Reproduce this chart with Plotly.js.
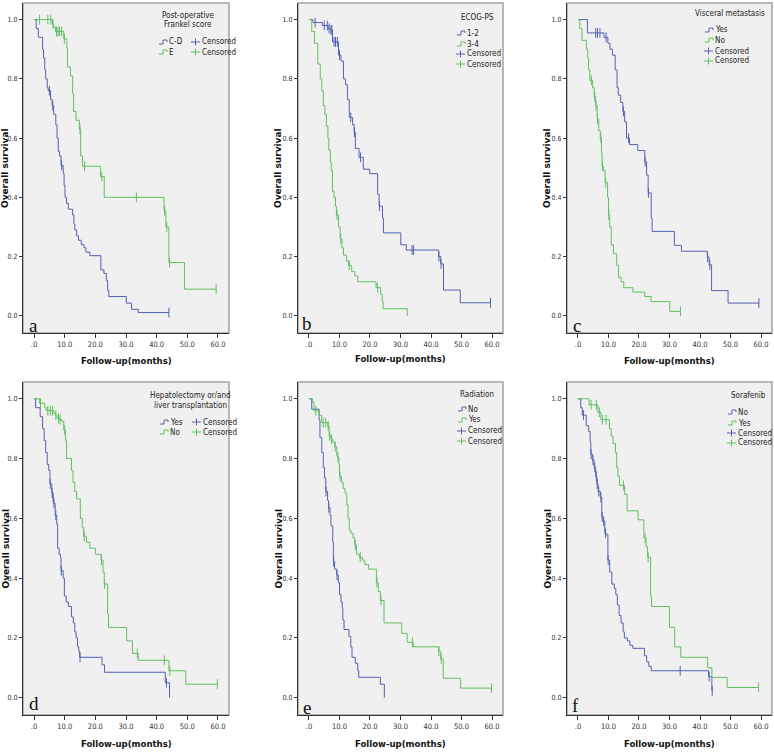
<!DOCTYPE html>
<html>
<head>
<meta charset="utf-8">
<script src="https://cdn.plot.ly/plotly-3.0.1.min.js"></script>
<style>
  html, body { margin: 0; padding: 0; background: #fff; }
  #chart { width: 774px; height: 752px; }
</style>
</head>
<body>
<div id="chart"></div>
<script>
// Kaplan-Meier step points [time, survival after step]
const aBlueT = [0, 0.7, 1.4, 2.8, 3.1, 3.5, 3.8, 4.3, 4.6, 5.4, 5.9, 6.4, 7.1, 7.5, 7.9, 8.3, 8.8, 9.5, 9.8, 10.1, 10.6, 11.2, 12.6, 13.0, 13.3, 13.9, 14.5, 15.4, 16.3, 16.9, 18.2, 21.8, 22.8, 23.6, 24.0, 24.4, 30.1, 31.8, 34.0, 44.0];
const aBlueS = [1, 0.97, 0.94, 0.90, 0.87, 0.83, 0.80, 0.77, 0.76, 0.73, 0.71, 0.68, 0.645, 0.60, 0.555, 0.54, 0.508, 0.48, 0.44, 0.40, 0.38, 0.36, 0.34, 0.31, 0.29, 0.27, 0.255, 0.24, 0.23, 0.215, 0.203, 0.155, 0.143, 0.12, 0.085, 0.065, 0.043, 0.022, 0.011, 0.011];
const aBlueC = [5.0, 6.1, 9.0, 44.0];
const aGreenT = [0, 6.0, 6.4, 7.0, 9.7, 10.7, 10.9, 11.9, 12.6, 12.9, 13.7, 14.8, 15.2, 15.8, 21.7, 22.9, 42.4, 43.0, 44.0, 49.1, 59.4];
const aGreenS = [1, 0.985, 0.975, 0.96, 0.935, 0.905, 0.84, 0.81, 0.75, 0.69, 0.66, 0.63, 0.54, 0.505, 0.47, 0.40, 0.355, 0.30, 0.18, 0.09, 0.09];
const aGreenC = [1.8, 4.5, 5.5, 6.2, 7.3, 7.8, 8.3, 9.0, 9.9, 15.0, 16.5, 22.1, 33.4, 42.6, 43.3, 44.2, 59.4];

const bBlueT = [0, 1.3, 4.4, 6.3, 6.9, 7.7, 9.7, 10.5, 11.3, 12.0, 12.6, 13.2, 14.3, 14.8, 15.2, 16.4, 17.8, 19.9, 22.5, 23.0, 24.1, 24.4, 30.1, 31.9, 42.5, 43.2, 44.1, 49.6, 59.5];
const bBlueS = [1, 0.99, 0.98, 0.97, 0.965, 0.925, 0.88, 0.86, 0.80, 0.78, 0.73, 0.67, 0.645, 0.62, 0.565, 0.535, 0.495, 0.48, 0.41, 0.37, 0.33, 0.28, 0.24, 0.222, 0.20, 0.175, 0.087, 0.044, 0.044];
const bBlueC = [2.0, 5.0, 6.0, 6.6, 7.2, 7.5, 8.2, 8.7, 9.3, 10.0, 13.7, 14.9, 16.9, 23.1, 33.8, 34.3, 42.6, 43.3, 59.5];
const bGreenT = [0, 0.9, 1.8, 2.9, 3.7, 4.2, 4.7, 5.2, 5.7, 6.2, 6.5, 7.0, 7.3, 7.7, 8.2, 8.7, 9.0, 9.7, 10.2, 10.8, 11.3, 12.3, 13.0, 14.0, 15.0, 16.0, 22.0, 23.5, 24.0, 24.3, 32.2];
const bGreenS = [1, 0.96, 0.92, 0.85, 0.80, 0.76, 0.71, 0.68, 0.64, 0.60, 0.56, 0.52, 0.49, 0.42, 0.40, 0.37, 0.34, 0.30, 0.26, 0.23, 0.205, 0.185, 0.17, 0.15, 0.135, 0.115, 0.095, 0.072, 0.048, 0.024, 0.0];
const bGreenC = [9.2, 10.4, 13.2, 22.5];

const cBlueT = [0, 3.1, 8.5, 9.8, 10.5, 11.3, 12.2, 12.8, 13.2, 14.0, 14.7, 15.3, 15.9, 16.9, 19.6, 21.9, 22.5, 23.0, 24.0, 24.3, 31.6, 33.9, 42.4, 43.0, 43.8, 49.2, 59.3];
const cBlueS = [1, 0.955, 0.94, 0.92, 0.90, 0.88, 0.83, 0.77, 0.745, 0.72, 0.69, 0.655, 0.60, 0.578, 0.558, 0.52, 0.475, 0.415, 0.33, 0.285, 0.238, 0.218, 0.198, 0.172, 0.085, 0.043, 0.043];
const cBlueC = [5.8, 6.4, 7.2, 9.2, 14.9, 16.6, 22.0, 23.1, 42.5, 43.2, 59.3];
const cGreenT = [0, 0.6, 1.3, 2.75, 3.2, 3.5, 3.9, 4.8, 5.3, 5.8, 6.3, 6.8, 7.3, 7.7, 7.9, 8.4, 8.9, 9.7, 10.0, 10.4, 10.9, 11.6, 12.7, 13.3, 14.1, 15.0, 18.0, 21.9, 24.0, 30.1, 33.6];
const cGreenS = [1, 0.97, 0.93, 0.90, 0.87, 0.83, 0.795, 0.77, 0.74, 0.71, 0.665, 0.625, 0.60, 0.55, 0.505, 0.49, 0.45, 0.40, 0.34, 0.30, 0.24, 0.21, 0.17, 0.13, 0.115, 0.095, 0.08, 0.065, 0.048, 0.015, 0.015];
const cGreenC = [4.4, 5.5, 5.9, 6.4, 7.5, 8.0, 9.1, 10.1, 33.6];

const dBlueT = [0, 0.5, 2.0, 2.8, 3.3, 3.8, 4.3, 4.8, 5.2, 5.8, 6.1, 6.4, 6.9, 7.4, 7.7, 8.2, 8.6, 8.8, 9.5, 9.9, 10.5, 11.2, 12.2, 12.8, 13.3, 13.7, 14.2, 14.6, 14.9, 22.2, 23.0, 42.8, 44.2];
const dBlueS = [1, 0.97, 0.94, 0.90, 0.86, 0.82, 0.78, 0.76, 0.715, 0.685, 0.67, 0.65, 0.61, 0.58, 0.50, 0.48, 0.47, 0.425, 0.40, 0.34, 0.32, 0.305, 0.27, 0.25, 0.22, 0.20, 0.17, 0.155, 0.135, 0.11, 0.085, 0.05, 0.0];
const dBlueC = [5.3, 5.9, 6.2, 6.5, 7.1, 8.9, 15.0, 43.2];
const dGreenT = [0, 1.8, 3.5, 4.0, 6.5, 7.0, 7.5, 8.2, 9.0, 9.7, 10.3, 10.6, 12.2, 12.7, 13.3, 13.9, 15.1, 15.7, 16.2, 17.1, 18.2, 20.0, 21.9, 22.5, 22.9, 24.0, 24.3, 30.2, 32.1, 34.0, 44.0, 49.5, 59.8];
const dGreenS = [1, 0.985, 0.97, 0.96, 0.95, 0.945, 0.935, 0.93, 0.925, 0.895, 0.86, 0.80, 0.76, 0.72, 0.69, 0.665, 0.60, 0.57, 0.54, 0.52, 0.50, 0.48, 0.46, 0.42, 0.38, 0.28, 0.235, 0.19, 0.148, 0.125, 0.09, 0.045, 0.045];
const dGreenC = [2.1, 4.5, 5.3, 6.0, 7.1, 8.0, 8.5, 10.0, 16.4, 22.0, 23.0, 33.7, 42.5, 44.3, 59.8];

const eBlueT = [0, 0.9, 3.3, 3.6, 4.2, 4.7, 5.1, 5.5, 6.1, 6.4, 6.9, 7.2, 7.8, 8.0, 8.4, 9.1, 9.6, 10.0, 10.5, 10.9, 11.1, 11.5, 13.1, 13.7, 14.1, 15.2, 16.0, 16.3, 23.4, 24.7];
const eBlueS = [1, 0.965, 0.93, 0.87, 0.82, 0.77, 0.735, 0.69, 0.66, 0.635, 0.61, 0.575, 0.52, 0.455, 0.43, 0.41, 0.385, 0.345, 0.32, 0.30, 0.26, 0.228, 0.205, 0.17, 0.135, 0.115, 0.09, 0.068, 0.045, 0.0];
const eBlueC = [5.6, 6.5, 8.1, 9.2];
const eGreenT = [0, 1.1, 1.6, 3.4, 4.2, 6.2, 6.6, 7.2, 7.8, 8.4, 9.1, 9.3, 9.8, 10.0, 10.6, 11.2, 11.8, 12.4, 12.8, 13.2, 13.7, 14.4, 15.0, 15.6, 16.5, 17.5, 18.3, 19.5, 22.1, 22.7, 23.4, 24.6, 30.4, 32.2, 34.2, 42.5, 43.2, 44.0, 49.7, 59.8];
const eGreenS = [1, 0.99, 0.96, 0.945, 0.92, 0.91, 0.875, 0.865, 0.855, 0.84, 0.81, 0.805, 0.78, 0.74, 0.72, 0.70, 0.685, 0.645, 0.60, 0.56, 0.55, 0.535, 0.51, 0.48, 0.47, 0.46, 0.445, 0.43, 0.385, 0.355, 0.325, 0.25, 0.215, 0.185, 0.17, 0.155, 0.13, 0.065, 0.032, 0.032];
const eGreenC = [2.2, 4.7, 5.5, 6.3, 6.8, 7.4, 8.6, 9.5, 10.2, 15.2, 16.8, 22.3, 23.6, 33.9, 42.6, 43.3, 59.8];

const fBlueT = [0, 0.9, 1.4, 2.7, 3.5, 4.0, 4.2, 4.7, 5.3, 5.8, 6.2, 6.6, 7.3, 7.8, 8.2, 8.8, 9.3, 9.8, 10.4, 11.1, 11.9, 12.4, 12.9, 13.5, 14.1, 14.8, 15.2, 16.2, 17.0, 18.0, 21.8, 22.5, 23.2, 24.0, 42.8, 43.9];
const fBlueS = [1, 0.97, 0.945, 0.91, 0.89, 0.855, 0.815, 0.795, 0.77, 0.74, 0.715, 0.69, 0.67, 0.605, 0.59, 0.55, 0.545, 0.46, 0.42, 0.38, 0.365, 0.345, 0.31, 0.275, 0.25, 0.22, 0.20, 0.19, 0.175, 0.165, 0.14, 0.12, 0.105, 0.09, 0.07, 0.022];
const fBlueC = [1.8, 4.3, 4.9, 5.5, 6.0, 6.3, 6.8, 7.5, 7.9, 8.4, 9.0, 9.9, 33.5, 43.0, 44.0];
const fGreenT = [0, 3.6, 6.5, 7.5, 10.3, 10.9, 11.5, 12.3, 12.7, 13.1, 13.6, 15.3, 16.1, 19.7, 21.6, 22.3, 22.8, 23.8, 24.1, 30.0, 31.7, 33.7, 42.5, 43.9, 48.9, 59.2];
const fGreenS = [1, 0.98, 0.955, 0.93, 0.90, 0.875, 0.85, 0.82, 0.77, 0.74, 0.71, 0.68, 0.625, 0.595, 0.535, 0.505, 0.47, 0.34, 0.305, 0.235, 0.17, 0.135, 0.10, 0.068, 0.034, 0.034];
const fGreenC = [4.3, 6.0, 7.0, 8.0, 9.2, 14.9, 22.0, 23.0, 59.2];

const xTickVals = [0, 10, 20, 30, 40, 50, 60];
const xTickText = ['.0', '10.0', '20.0', '30.0', '40.0', '50.0', '60.0'];
const yTickVals = [0, 0.2, 0.4, 0.6, 0.8, 1.0];
const yTickText = ['0.0', '0.2', '0.4', '0.6', '0.8', '1.0'];

const BLUE = '#5461b2';
const GREEN = '#60bf60';
const W = 774, H = 752;
const NARROW = '"DejaVu Sans Condensed", "Liberation Sans Narrow", sans-serif';
const X = px => px / W;
const Y = py => 1 - py / H;

const panels = [
  { letter: 'a', col: 0, row: 0, curves: [[aBlueT, aBlueS, aBlueC], [aGreenT, aGreenS, aGreenC]],
    title: ['Post-operative', 'Frankel score'], names: ['C-D', 'E'],
    legend: { kind: 'two', cx: 188, ty: [15, 25], rows: [42, 52], ix: 159, cix: 191 } },
  { letter: 'b', col: 1, row: 0, curves: [[bBlueT, bBlueS, bBlueC], [bGreenT, bGreenS, bGreenC]],
    title: ['ECOG-PS'], names: ['1-2', '3-4'],
    legend: { kind: 'four', cx: 477, ty: [18], rows: [33, 44, 54, 64], ix: 457 } },
  { letter: 'c', col: 2, row: 0, curves: [[cBlueT, cBlueS, cBlueC], [cGreenT, cGreenS, cGreenC]],
    title: ['Visceral metastasis'], names: ['Yes', 'No'],
    legend: { kind: 'four', cx: 730, ty: [14], rows: [30, 40, 51, 61], ix: 705 } },
  { letter: 'd', col: 0, row: 1, curves: [[dBlueT, dBlueS, dBlueC], [dGreenT, dGreenS, dGreenC]],
    title: ['Hepatolectomy or/and', 'liver transplantation'], names: ['Yes', 'No'],
    legend: { kind: 'two', cx: 190, ty: [395, 405], rows: [422, 432], ix: 160, cix: 192 } },
  { letter: 'e', col: 1, row: 1, curves: [[eBlueT, eBlueS, eBlueC], [eGreenT, eGreenS, eGreenC]],
    title: ['Radiation'], names: ['No', 'Yes'],
    legend: { kind: 'four', cx: 477, ty: [394], rows: [409, 420, 431, 441], ix: 458 } },
  { letter: 'f', col: 2, row: 1, curves: [[fBlueT, fBlueS, fBlueC], [fGreenT, fGreenS, fGreenC]],
    title: ['Sorafenib'], names: ['No', 'Yes'],
    legend: { kind: 'four', cx: 748, ty: [396], rows: [412, 423, 433, 443], ix: 728 } }
];

const cols = [[23, 229], [298, 503], [567, 772]];
const rows = [[3, 333], [382, 715]];
const yTitleX = [5, 278, 547];
const xTitleY = [360, 743];
const letterPos = [[33, 325], [307, 323], [577, 325], [34, 703], [307, 707], [575, 705]];

function survAt(t, ts, ss) {
  let v = ss[0];
  for (let i = 0; i < ts.length; i++) {
    if (ts[i] <= t) v = ss[i];
  }
  return v;
}

const data = [];
const shapes = [];
const annotations = [];
const layout = {
  width: W, height: H,
  margin: { l: 0, r: 0, t: 0, b: 0 },
  paper_bgcolor: '#ffffff',
  showlegend: false,
  shapes, annotations
};

function legendIcon(x, y, color) {
  // small step glyph used by the legend
  shapes.push({
    type: 'path', xref: 'paper', yref: 'paper',
    path: `M ${X(x)},${Y(y + 2)} L ${X(x + 4)},${Y(y + 2)} L ${X(x + 4)},${Y(y - 2)} L ${X(x + 8)},${Y(y - 2)} L ${X(x + 8)},${Y(y)}`,
    line: { color, width: 1 }
  });
}
function censorIcon(x, y, color) {
  shapes.push({ type: 'line', xref: 'paper', yref: 'paper', x0: X(x), x1: X(x + 9), y0: Y(y), y1: Y(y), line: { color, width: 1 } });
  shapes.push({ type: 'line', xref: 'paper', yref: 'paper', x0: X(x + 4.5), x1: X(x + 4.5), y0: Y(y - 3.5), y1: Y(y + 3.5), line: { color, width: 1 } });
}
function legendText(x, y, text, anchor) {
  annotations.push({
    xref: 'paper', yref: 'paper', x: X(x), y: Y(y), text, showarrow: false,
    xanchor: anchor || 'left', yanchor: 'middle', borderpad: 0,
    font: { family: NARROW, size: 8, color: '#222' }
  });
}

panels.forEach((p, i) => {
  const n = i + 1;
  const xa = n === 1 ? 'x' : 'x' + n;
  const ya = n === 1 ? 'y' : 'y' + n;
  const c = cols[p.col], r = rows[p.row];
  layout['xaxis' + (n === 1 ? '' : n)] = {
    domain: [X(c[0]), X(c[1])], anchor: ya, range: [-3.6, 63.6],
    tickvals: xTickVals, ticktext: xTickText, ticks: 'outside', ticklen: 4, tickcolor: '#333',
    showline: true, linecolor: '#333', linewidth: 1, showgrid: false, zeroline: false,
    tickfont: { family: NARROW, size: 7.5, color: '#333' }, fixedrange: true
  };
  layout['yaxis' + (n === 1 ? '' : n)] = {
    domain: [Y(r[1]), Y(r[0])], anchor: xa, range: [-0.058, 1.056],
    tickvals: yTickVals, ticktext: yTickText, ticks: 'outside', ticklen: 3, tickcolor: '#333',
    showline: true, linecolor: '#333', linewidth: 1, showgrid: false, zeroline: false,
    tickfont: { family: NARROW, size: 7, color: '#333' }, fixedrange: true
  };
  // grey plot area with frame
  shapes.push({
    type: 'rect', xref: 'paper', yref: 'paper', layer: 'below',
    x0: X(c[0]), x1: X(c[1]), y0: Y(r[1]), y1: Y(r[0]),
    fillcolor: '#f0f0f0', line: { color: '#a3a3a3', width: 1.5 }
  });

  p.curves.forEach((cv, k) => {
    const [ts, ss, cs] = cv;
    const color = k === 0 ? BLUE : GREEN;
    data.push({
      type: 'scatter', mode: 'lines', x: ts, y: ss, xaxis: xa, yaxis: ya,
      line: { color, width: 1, shape: 'hv' }, hoverinfo: 'skip'
    });
    data.push({
      type: 'scatter', mode: 'markers', x: cs, y: cs.map(t => survAt(t, ts, ss)), xaxis: xa, yaxis: ya,
      marker: { symbol: 'line-ns', size: 7, color, line: { color, width: 1 } }, hoverinfo: 'skip'
    });
  });

  // axis titles
  annotations.push({
    xref: 'paper', yref: 'paper', x: X(yTitleX[p.col]), y: Y((r[0] + r[1]) / 2),
    text: 'Overall survival', textangle: -90, showarrow: false,
    xanchor: 'center', yanchor: 'middle',
    font: { family: '"DejaVu Sans", Verdana, sans-serif', size: 9, color: '#111', weight: 'bold' }
  });
  annotations.push({
    xref: 'paper', yref: 'paper', x: X((c[0] + c[1]) / 2), y: Y(xTitleY[p.row] + (p.col === 1 && p.row === 0 ? -2 : 0)),
    text: '<b>Follow-up(months)</b>', showarrow: false, xanchor: 'center', yanchor: 'middle',
    font: { family: NARROW, size: 9.5, color: '#111' }
  });
  // panel letter
  const lp = letterPos[i];
  annotations.push({
    xref: 'paper', yref: 'paper', x: X(lp[0]), y: Y(lp[1]), text: p.letter, showarrow: false,
    xanchor: 'center', yanchor: 'middle',
    font: { family: '"Liberation Serif", "DejaVu Serif", serif', size: 19, color: '#111' }
  });

  // legend
  const L = p.legend;
  p.title.forEach((line, j) => legendText(L.cx, L.ty[j], line, 'center'));
  if (L.kind === 'two') {
    [BLUE, GREEN].forEach((col, j) => {
      legendIcon(L.ix, L.rows[j], col);
      legendText(L.ix + 9, L.rows[j], p.names[j]);
      censorIcon(L.cix, L.rows[j], col);
      legendText(L.cix + 10, L.rows[j], 'Censored');
    });
  } else {
    [BLUE, GREEN].forEach((col, j) => {
      legendIcon(L.ix, L.rows[j], col);
      legendText(L.ix + 9, L.rows[j], p.names[j]);
      censorIcon(L.ix - 1, L.rows[j + 2], col);
      legendText(L.ix + 9, L.rows[j + 2], 'Censored');
    });
  }
});

Plotly.newPlot('chart', data, layout, { displayModeBar: false, staticPlot: true });
</script>
</body>
</html>
